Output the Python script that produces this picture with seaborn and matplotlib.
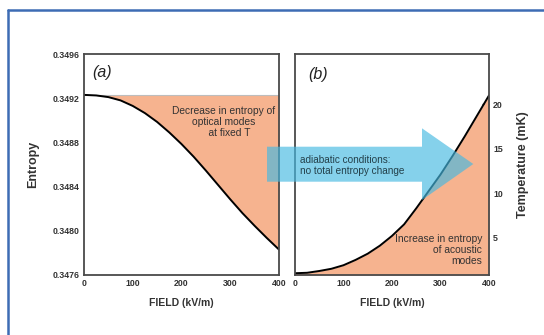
import numpy as np
import pandas as pd
import seaborn as sns
import matplotlib.pyplot as plt
from matplotlib.patches import Polygon
from matplotlib.lines import Line2D

# Electric field (kV/m) sampled along both curves
field = [0, 25, 50, 75, 100, 125, 150, 175, 200, 225, 250, 275, 300, 325, 350, 375, 400]

# (a) entropy of optical modes at fixed temperature
entropy = [0.34923, 0.349225, 0.34921, 0.34918, 0.34913, 0.349065, 0.348985, 0.34889,
           0.348785, 0.34867, 0.348545, 0.348415, 0.348285, 0.34816, 0.348045, 0.347935,
           0.34783]
entropy_start = 0.34923

# (b) temperature reached under adiabatic conditions (mK)
temperature = [1.0, 1.05, 1.25, 1.5, 1.9, 2.5, 3.2, 4.1, 5.2, 6.5, 8.3, 10.2, 12.1,
               14.2, 16.4, 18.7, 21.0]

entropy_ticks = [0.3476, 0.3480, 0.3484, 0.3488, 0.3492, 0.3496]
temp_ticks = [5, 10, 15, 20]
field_labels = [0, 100, 200, 300, 400]
field_minor = [0, 50, 100, 150, 200, 250, 300, 350, 400]

df = pd.DataFrame({"field": field, "entropy": entropy, "temperature": temperature})

sns.set_style("white")
plt.rcParams["font.family"] = ["Liberation Sans", "DejaVu Sans"]

W, H = 544, 335
fig = plt.figure(figsize=(W / 100, H / 100), dpi=100)

FILL = "#f6b38f"
SPINE = "#4a4a4a"
TXT = "#333333"
T_MIN, T_MAX = 0.8, 25.66


def px_rect(left, top, right, bottom):
    return [left / W, 1 - bottom / H, (right - left) / W, (bottom - top) / H]


ax1 = fig.add_axes(px_rect(84, 54, 279, 275))
ax2 = fig.add_axes(px_rect(295, 54, 489, 275))

# ---- panel (a)
ax1.fill_between(df["field"], df["entropy"], entropy_start, color=FILL, lw=0, zorder=1)
ax1.axhline(entropy_start, color="#bdbdbd", lw=0.8, zorder=1)
sns.lineplot(data=df, x="field", y="entropy", ax=ax1, color="black", lw=1.4, zorder=3)
ax1.set_xlim(0, 400)
ax1.set_ylim(0.3476, 0.3496)
ax1.set_yticks(entropy_ticks)
ax1.set_yticklabels([f"{t:.4f}" for t in entropy_ticks])
ax1.set_ylabel("Entropy", fontsize=9, fontweight="bold", color=TXT, labelpad=10)
ax1.text(0.04, 0.915, "(a)", transform=ax1.transAxes, fontsize=11.5, style="italic",
         color="#222222", va="center", ha="left")
ax1.text(286, 0.348985, "Decrease in entropy of\noptical modes\n    at fixed T",
         fontsize=7.4, color=TXT, ha="center", va="center", linespacing=1.15, zorder=4)

# ---- panel (b)
ax2.fill_between(df["field"], df["temperature"], T_MIN, color=FILL, lw=0, zorder=1)
sns.lineplot(data=df, x="field", y="temperature", ax=ax2, color="black", lw=1.4, zorder=3)
ax2.set_xlim(0, 400)
ax2.set_ylim(T_MIN, T_MAX)
ax2.yaxis.tick_right()
ax2.yaxis.set_label_position("right")
ax2.set_yticks(temp_ticks)
ax2.set_ylabel("Temperature (mK)", fontsize=9, fontweight="bold", color=TXT,
               labelpad=10, rotation=90)
ax2.text(0.067, 0.905, "(b)", transform=ax2.transAxes, fontsize=11.5, style="italic",
         color="#222222", va="center", ha="left")
ax2.text(386, 3.6, "Increase in entropy\nof acoustic\nmodes", fontsize=7.4, color=TXT,
         ha="right", va="center", multialignment="right", linespacing=1.1, zorder=4)

for ax in (ax1, ax2):
    ax.set_xticks(field_minor)
    ax.set_xticklabels([str(v) if v in field_labels else "" for v in field_minor])
    ax.set_xlabel("FIELD (kV/m)", fontsize=7.5, fontweight="bold", color=TXT, labelpad=7)
    ax.tick_params(axis="both", direction="in", length=5, width=1.0, color=SPINE,
                   labelsize=6.3, labelcolor=TXT, pad=3)
    for lbl in ax.get_xticklabels() + ax.get_yticklabels():
        lbl.set_fontweight("bold")
    for s in ax.spines.values():
        s.set_color(SPINE)
        s.set_linewidth(1.3)
        s.set_zorder(5)
    ax.set_facecolor("white")

# ---- adiabatic arrow spanning both panels
arrow_px = [(267, 146.7), (422, 146.7), (422, 128.3), (473.3, 164),
            (422, 200), (422, 181.7), (267, 181.7)]
arrow = Polygon([(x / W, 1 - y / H) for x, y in arrow_px], closed=True,
                transform=fig.transFigure, facecolor="#46b9e1", edgecolor="none",
                alpha=0.66, zorder=10)
fig.patches.append(arrow)
fig.text(300 / W, 1 - 165.5 / H, "adiabatic conditions:\nno total entropy change",
         fontsize=7.2, color="#23404a", ha="left", va="center", linespacing=1.15, zorder=11)

# ---- outer frame
frame_col = "#3d6cb4"
fig.add_artist(Line2D([8 / W, 8 / W], [0, 1 - 10 / H], transform=fig.transFigure,
                      color=frame_col, lw=1.8))
fig.add_artist(Line2D([8 / W, 1], [1 - 10 / H, 1 - 10 / H], transform=fig.transFigure,
                      color=frame_col, lw=1.8))

fig.savefig("out.png", dpi=100)
